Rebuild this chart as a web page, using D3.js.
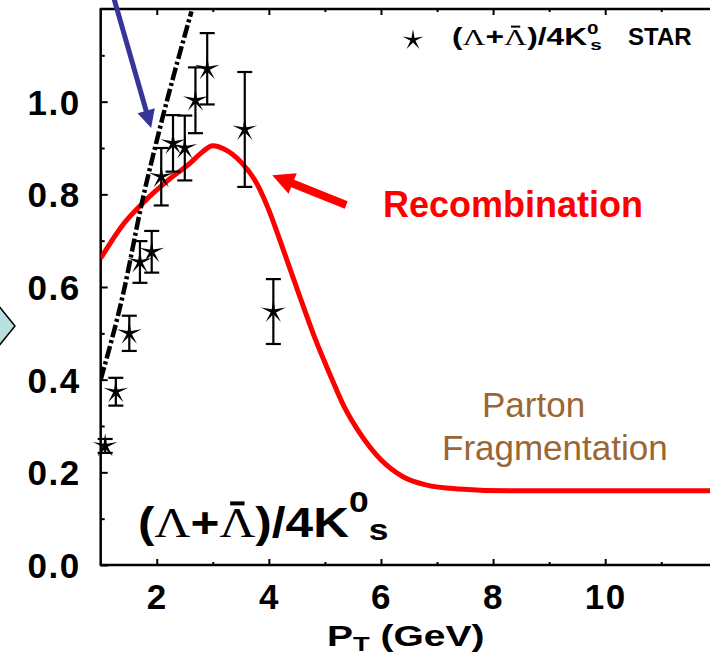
<!DOCTYPE html>
<html><head><meta charset="utf-8">
<script src="https://cdn.jsdelivr.net/npm/d3@7"></script>
<style>body{margin:0;background:#fff}svg{display:block}</style>
</head><body>
<svg id="c" width="710" height="658"></svg>
<script>
// ---- data ----
const starPt    = [1.08, 1.27, 1.51, 1.70, 1.91, 2.08, 2.29, 2.50, 2.69, 2.90, 3.57, 4.08];
const starRatio = [0.257, 0.374, 0.50, 0.654, 0.676, 0.838, 0.91, 0.90, 1.003, 1.071, 0.94, 0.547];
const starErr   = [0.015, 0.03, 0.038, 0.045, 0.045, 0.062, 0.061, 0.07, 0.071, 0.077, 0.124, 0.07];

const recoPt  = [1.0, 1.4, 1.8, 2.2, 2.6, 2.8, 3.0, 3.2, 3.5, 3.8, 4.0, 4.2, 4.55, 4.82, 5.08, 5.35, 5.62, 6.0, 6.4, 6.8, 7.4, 8.3, 10, 12];
const recoVal = [0.662, 0.735, 0.787, 0.83, 0.868, 0.89, 0.905, 0.898, 0.87, 0.82, 0.766, 0.70, 0.58, 0.49, 0.414, 0.34, 0.285, 0.227, 0.19, 0.173, 0.164, 0.16, 0.16, 0.16];

const dashPt  = [1.0, 1.4, 1.75, 2.05, 2.62];
const dashVal = [0.40, 0.585, 0.79, 0.94, 1.195];

const yTicks = [0.0, 0.2, 0.4, 0.6, 0.8, 1.0];
const yMinor = [0.1, 0.3, 0.5, 0.7, 0.9, 1.1];
const xTicks = [2, 4, 6, 8, 10];
const xMinor = [3, 5, 7, 9, 11];

// ---- setup ----
const svg = d3.select("#c");
const X0 = 100.7, X1 = 717.3, YB = 565, YT = 9;
const x = d3.scaleLinear().domain([1, 12]).range([X0, X1]);
const y = d3.scaleLinear().domain([0, 1.2]).range([YB, YT]);
const SANS = "'Liberation Sans', Arial, Helvetica, sans-serif";
const SERIF = "'Liberation Serif', 'Times New Roman', serif";

svg.append("defs").append("clipPath").attr("id", "clip")
  .append("rect").attr("x", X0).attr("y", YT).attr("width", 710 - X0).attr("height", YB - YT);

// left chevron decoration
svg.append("polygon").attr("points", "-2,305 15,326 -2,347")
  .attr("fill", "#b9dfe1").attr("stroke", "#000").attr("stroke-width", 1.5);

// ---- axes ----
const gy = svg.append("g").attr("transform", `translate(${X0},0)`)
  .call(d3.axisLeft(y).tickValues(yTicks).tickSize(-7).tickPadding(20).tickFormat(d3.format(".1f")));
svg.append("g").attr("transform", `translate(${X0},0)`)
  .call(d3.axisLeft(y).tickValues(yMinor).tickSize(-4).tickFormat(""));
const gx = svg.append("g").attr("transform", `translate(0,${YB})`)
  .call(d3.axisBottom(x).tickValues(xTicks).tickSize(-6).tickPadding(19).tickFormat(d3.format("d")));
svg.append("g").attr("transform", `translate(0,${YB})`)
  .call(d3.axisBottom(x).tickValues(xMinor).tickSize(-3).tickFormat(""));
svg.append("g").attr("transform", `translate(0,${YT})`)
  .call(d3.axisTop(x).tickValues(xTicks).tickSize(-6).tickFormat(""));
svg.append("g").attr("transform", `translate(0,${YT})`)
  .call(d3.axisTop(x).tickValues(xMinor).tickSize(-3).tickFormat(""));
svg.selectAll(".domain").remove();
svg.selectAll(".tick line").attr("stroke", "#000").attr("stroke-width", 2);
svg.selectAll(".tick text").attr("fill", "#000").attr("font-family", SANS)
  .attr("font-weight", "bold").attr("font-size", 35);
gy.selectAll(".tick text").attr("dy", "0.36em").attr("letter-spacing", 1.5);
gx.selectAll(".tick text").attr("letter-spacing", 1.5);

// frame
const frame = svg.append("g").attr("stroke", "#000").attr("stroke-width", 2.5).attr("fill", "none");
frame.append("line").attr("x1", X0).attr("x2", X0).attr("y1", YT).attr("y2", YB);
frame.append("line").attr("x1", X0 - 1).attr("x2", 712).attr("y1", YB).attr("y2", YB);
frame.append("line").attr("x1", X0 - 1).attr("x2", 712).attr("y1", YT).attr("y2", YT);

// ---- curves ----
const plot = svg.append("g").attr("clip-path", "url(#clip)");
const reco = recoPt.map((p, i) => [p, recoVal[i]]);
plot.append("path").datum(reco)
  .attr("d", d3.line().x(d => x(d[0])).y(d => y(d[1])).curve(d3.curveMonotoneX))
  .attr("fill", "none").attr("stroke", "#ff0000").attr("stroke-width", 5);

const dd = dashPt.map((p, i) => [p, dashVal[i]]);
plot.append("path").datum(dd)
  .attr("d", d3.line().x(d => x(d[0])).y(d => y(d[1])).curve(d3.curveMonotoneX))
  .attr("fill", "none").attr("stroke", "#000").attr("stroke-width", 4.5)
  .attr("stroke-dasharray", "13,3,3,3");

// ---- stars with error bars ----
function starPath(R, r) {
  const pts = [];
  for (let i = 0; i < 10; i++) {
    const a = -Math.PI / 2 + i * Math.PI / 5;
    const rr = i % 2 === 0 ? R : r;
    pts.push([rr * Math.cos(a), rr * Math.sin(a)]);
  }
  return "M" + pts.map(p => p[0].toFixed(2) + "," + p[1].toFixed(2)).join("L") + "Z";
}
const pts = starPt.map((p, i) => ({p, v: starRatio[i], e: starErr[i]}));
const eb = svg.append("g").attr("stroke", "#000").attr("stroke-width", 2.2);
pts.forEach(d => {
  const cx = x(d.p), yt = y(d.v + d.e), yb = y(d.v - d.e);
  eb.append("line").attr("x1", cx).attr("x2", cx).attr("y1", yt).attr("y2", yb);
  eb.append("line").attr("x1", cx - 7.5).attr("x2", cx + 7.5).attr("y1", yt).attr("y2", yt);
  eb.append("line").attr("x1", cx - 7.5).attr("x2", cx + 7.5).attr("y1", yb).attr("y2", yb);
});
svg.append("g").selectAll("path").data(pts).join("path")
  .attr("d", starPath(13, 2.8))
  .attr("transform", d => `translate(${x(d.p)},${y(d.v)})`)
  .attr("fill", "#000");

// ---- arrows ----
function arrow(x1, y1, x2, y2, w, L, H, color) {
  const dx = x2 - x1, dy = y2 - y1, len = Math.hypot(dx, dy);
  const ux = dx / len, uy = dy / len;
  const bx = x2 - ux * L, by = y2 - uy * L;
  svg.append("line").attr("x1", x1).attr("y1", y1).attr("x2", bx + ux * 2).attr("y2", by + uy * 2)
    .attr("stroke", color).attr("stroke-width", w);
  svg.append("polygon").attr("points",
    `${x2},${y2} ${bx - uy * H},${by + ux * H} ${bx + uy * H},${by - ux * H}`).attr("fill", color);
}
arrow(x(1.195), y(1.24), x(1.9), y(0.943), 5, 18, 9, "#363699");
arrow(x(5.38), y(0.777), x(4.06), y(0.841), 8, 22, 11, "#ff0000");

// ---- annotations ----
svg.append("text").attr("x", 383).attr("y", 217).attr("fill", "#ff0000")
  .attr("font-family", SANS).attr("font-weight", "bold").attr("font-size", 36)
  .text("Recombination");
svg.append("text").attr("x", 482).attr("y", 417).attr("fill", "#9a6633")
  .attr("font-family", SANS).attr("font-size", 35).text("Parton");
svg.append("text").attr("x", 442).attr("y", 460).attr("fill", "#9a6633")
  .attr("font-family", SANS).attr("font-size", 35).text("Fragmentation");

// (Λ+Λ̄)/4K0s label drawn in a horizontally stretched group
function ratioLabel(tx, ty, sx, big, sup, supDy, subDy, subDx, barW) {
  const g = svg.append("g").attr("transform", `translate(${tx},${ty}) scale(${sx},1)`);
  const t = g.append("text").attr("x", 0).attr("y", 0)
    .attr("font-family", SANS).attr("font-weight", "bold").attr("fill", "#000");
  t.append("tspan").attr("font-size", big).text("(");
  t.append("tspan").attr("font-family", SERIF).attr("font-weight", "normal").attr("font-size", big).text("Λ");
  t.append("tspan").attr("font-size", big).text("+");
  t.append("tspan").attr("font-family", SERIF).attr("font-weight", "normal").attr("font-size", big).text("Λ");
  t.append("tspan").attr("font-size", big).text(")/4K");
  t.append("tspan").attr("font-size", sup).attr("dy", supDy).text("0");
  t.append("tspan").attr("font-size", sup).attr("dy", subDy).attr("dx", subDx).text("s");
  const ext = t.node().getExtentOfChar(3);
  const by = -big * 0.66 - big * 0.14;
  g.append("line")
    .attr("x1", ext.x + ext.width * 0.3).attr("x2", ext.x + ext.width * 0.7)
    .attr("y1", by).attr("y2", by).attr("stroke", "#000").attr("stroke-width", barW);
}
ratioLabel(138, 537, 1.18, 42, 30, -25, 28, 0, 4);

// legend
svg.append("path").attr("d", starPath(11, 2.6)).attr("transform", "translate(413,40)").attr("fill", "#000");
ratioLabel(452, 45, 1.38, 23, 15, -11, 16, -6, 2);
svg.append("text").attr("x", 628).attr("y", 45).attr("font-family", SANS)
  .attr("font-weight", "bold").attr("font-size", 24).attr("fill", "#000").text("STAR");

// x axis title
const xt = svg.append("g").attr("transform", "translate(327,646) scale(1.3,1)")
  .append("text").attr("x", 0).attr("y", 0).attr("font-family", SANS)
  .attr("font-weight", "bold").attr("fill", "#000");
xt.append("tspan").attr("font-size", 30).text("P");
xt.append("tspan").attr("font-size", 21).attr("dy", 5).text("T");
xt.append("tspan").attr("font-size", 30).attr("dy", -5).text(" (GeV)");
</script>
</body></html>
